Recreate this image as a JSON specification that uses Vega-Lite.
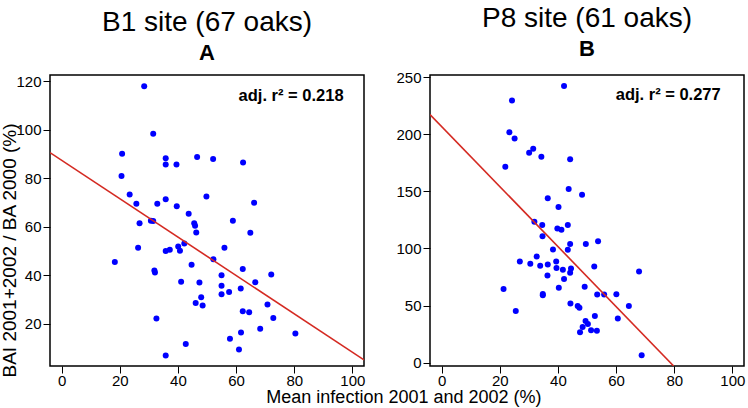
{
  "$schema": "https://vega.github.io/schema/vega-lite/v6.json",
  "background": "white",
  "padding": {"left": 0, "top": 4, "right": 0, "bottom": 2},
  "spacing": 29,
  "title": {"text": "Mean infection 2001 and 2002  (%)", "orient": "bottom", "anchor": "middle", "fontSize": 18, "fontWeight": "normal", "font": "Liberation Sans", "color": "black", "offset": 0, "dx": 31},
  "config": {
    "view": {"stroke": "black", "strokeWidth": 1.5},
    "axis": {"domain": false, "grid": false, "ticks": true, "tickColor": "black", "tickSize": 7, "tickWidth": 1, "labelColor": "black", "labelFontSize": 15, "labelFont": "Liberation Sans", "titleFont": "Liberation Sans", "titleFontSize": 19, "titleFontWeight": "normal", "titleColor": "black", "labelPadding": 2, "labelFlush": false},
    "axisX": {"labelPadding": 0},
    "text": {"font": "Liberation Sans"}
  },
  "datasets": {
    "b1": [
      {"x": 28.4, "y": 117.9}, {"x": 31.5, "y": 98.3}, {"x": 20.8, "y": 90.0}, {"x": 35.8, "y": 88.2}, {"x": 35.8, "y": 85.6},
      {"x": 39.5, "y": 85.6}, {"x": 46.6, "y": 88.7}, {"x": 52.1, "y": 87.9}, {"x": 62.4, "y": 86.4}, {"x": 20.6, "y": 80.9},
      {"x": 23.4, "y": 73.2}, {"x": 25.7, "y": 69.4}, {"x": 32.9, "y": 69.4}, {"x": 35.8, "y": 71.3}, {"x": 39.6, "y": 68.4},
      {"x": 49.8, "y": 72.4}, {"x": 66.2, "y": 69.8}, {"x": 43.7, "y": 65.3}, {"x": 26.8, "y": 61.4}, {"x": 30.7, "y": 62.4},
      {"x": 31.5, "y": 62.3}, {"x": 45.6, "y": 61.4}, {"x": 45.9, "y": 60.3}, {"x": 46.3, "y": 57.6}, {"x": 58.9, "y": 62.4},
      {"x": 64.9, "y": 57.4}, {"x": 26.3, "y": 51.3}, {"x": 35.8, "y": 49.9}, {"x": 37.2, "y": 50.4}, {"x": 40.1, "y": 51.8},
      {"x": 40.7, "y": 50.0}, {"x": 42.2, "y": 53.0}, {"x": 56.0, "y": 51.3}, {"x": 18.3, "y": 45.4}, {"x": 52.2, "y": 46.5},
      {"x": 31.9, "y": 41.9}, {"x": 32.1, "y": 41.1}, {"x": 44.7, "y": 44.3}, {"x": 62.3, "y": 42.5}, {"x": 55.0, "y": 39.9},
      {"x": 41.1, "y": 37.2}, {"x": 47.4, "y": 36.9}, {"x": 66.6, "y": 37.0}, {"x": 72.1, "y": 40.2}, {"x": 55.0, "y": 35.6},
      {"x": 57.6, "y": 33.0}, {"x": 55.0, "y": 32.1}, {"x": 61.6, "y": 34.5}, {"x": 48.0, "y": 30.8}, {"x": 46.1, "y": 28.5},
      {"x": 48.5, "y": 27.5}, {"x": 70.8, "y": 27.9}, {"x": 62.3, "y": 25.1}, {"x": 64.5, "y": 24.7}, {"x": 72.8, "y": 22.3},
      {"x": 32.6, "y": 22.1}, {"x": 68.3, "y": 17.9}, {"x": 61.7, "y": 16.3}, {"x": 80.4, "y": 15.9}, {"x": 57.9, "y": 13.7},
      {"x": 42.7, "y": 11.6}, {"x": 35.8, "y": 6.8}, {"x": 61.0, "y": 9.3}
    ],
    "p8": [
      {"x": 42.1, "y": 242.4}, {"x": 24.2, "y": 229.6}, {"x": 23.3, "y": 201.9}, {"x": 25.1, "y": 196.4}, {"x": 21.9, "y": 171.6},
      {"x": 30.1, "y": 183.8}, {"x": 31.5, "y": 187.3}, {"x": 34.3, "y": 180.4}, {"x": 44.2, "y": 178.1}, {"x": 43.7, "y": 152.1},
      {"x": 48.3, "y": 147.1}, {"x": 36.5, "y": 144.0}, {"x": 40.2, "y": 136.4}, {"x": 31.9, "y": 123.3}, {"x": 34.6, "y": 120.6},
      {"x": 43.4, "y": 120.6}, {"x": 39.8, "y": 117.4}, {"x": 41.2, "y": 116.5}, {"x": 34.7, "y": 110.7}, {"x": 44.2, "y": 104.0},
      {"x": 49.6, "y": 104.0}, {"x": 53.8, "y": 106.4}, {"x": 38.3, "y": 99.1}, {"x": 43.4, "y": 98.8}, {"x": 26.9, "y": 88.6},
      {"x": 30.5, "y": 86.5}, {"x": 32.7, "y": 92.9}, {"x": 33.9, "y": 84.8}, {"x": 36.5, "y": 85.9}, {"x": 39.4, "y": 88.6},
      {"x": 39.5, "y": 82.8}, {"x": 41.7, "y": 81.3}, {"x": 44.5, "y": 82.4}, {"x": 44.2, "y": 78.7}, {"x": 52.5, "y": 84.2},
      {"x": 67.9, "y": 79.8}, {"x": 36.4, "y": 76.3}, {"x": 42.1, "y": 73.2}, {"x": 21.3, "y": 64.4}, {"x": 40.3, "y": 65.6},
      {"x": 49.2, "y": 66.4}, {"x": 34.8, "y": 60.1}, {"x": 34.8, "y": 59.0}, {"x": 53.5, "y": 59.6}, {"x": 55.9, "y": 59.7},
      {"x": 60.1, "y": 59.8}, {"x": 25.5, "y": 45.2}, {"x": 44.3, "y": 51.8}, {"x": 46.8, "y": 49.6}, {"x": 47.4, "y": 48.0},
      {"x": 64.4, "y": 49.6}, {"x": 60.6, "y": 38.6}, {"x": 52.7, "y": 40.9}, {"x": 49.5, "y": 36.4}, {"x": 50.3, "y": 33.8},
      {"x": 48.5, "y": 31.2}, {"x": 47.6, "y": 26.5}, {"x": 51.4, "y": 28.4}, {"x": 53.4, "y": 27.8}, {"x": 68.8, "y": 6.4}
    ],
    "b1line": [{"x": -4, "y": 90.5}, {"x": 104, "y": 5.0}],
    "p8line": [{"x": -4, "y": 217.4}, {"x": 79.8, "y": -3}],
    "b1lab": [{"x": 97, "y": 113.8, "label": "adj. r² = 0.218"}],
    "p8lab": [{"x": 96, "y": 234.3, "label": "adj. r² = 0.277"}]
  },
  "hconcat": [
    {
      "width": 314,
      "height": 291,
      "title": {"text": "B1 site (67 oaks)", "subtitle": "A", "fontSize": 28, "fontWeight": "normal", "font": "Liberation Sans", "color": "black", "subtitleFont": "Liberation Sans", "subtitleFontSize": 22, "subtitleFontWeight": "bold", "subtitleColor": "black", "anchor": "middle", "offset": 10, "subtitlePadding": 6},
      "layer": [
        {
          "data": {"name": "b1"},
          "mark": {"type": "point", "filled": true, "size": 36, "color": "#0000FF", "opacity": 1},
          "encoding": {
            "x": {"field": "x", "type": "quantitative", "scale": {"domain": [-4, 104], "nice": false, "zero": false}, "axis": {"values": [0, 20, 40, 60, 80, 100], "title": null}},
            "y": {"field": "y", "type": "quantitative", "scale": {"domain": [2.5, 122.5], "nice": false, "zero": false}, "axis": {"values": [20, 40, 60, 80, 100, 120], "title": "BAI 2001+2002  / BA 2000  (%)", "titlePadding": -4, "titleY": 175}}
          }
        },
        {
          "data": {"name": "b1line"},
          "mark": {"type": "line", "color": "#D42A22", "strokeWidth": 1.6, "clip": true},
          "encoding": {"x": {"field": "x", "type": "quantitative"}, "y": {"field": "y", "type": "quantitative"}}
        },
        {
          "data": {"name": "b1lab"},
          "mark": {"type": "text", "align": "right", "baseline": "middle", "fontSize": 16.5, "fontWeight": "bold", "color": "black"},
          "encoding": {"x": {"field": "x", "type": "quantitative"}, "y": {"field": "y", "type": "quantitative"}, "text": {"field": "label"}}
        }
      ]
    },
    {
      "width": 314,
      "height": 291,
      "title": {"text": "P8 site (61 oaks)", "subtitle": "B", "fontSize": 28, "fontWeight": "normal", "font": "Liberation Sans", "color": "black", "subtitleFont": "Liberation Sans", "subtitleFontSize": 22, "subtitleFontWeight": "bold", "subtitleColor": "black", "anchor": "middle", "offset": 10, "subtitlePadding": 6},
      "layer": [
        {
          "data": {"name": "p8"},
          "mark": {"type": "point", "filled": true, "size": 36, "color": "#0000FF", "opacity": 1},
          "encoding": {
            "x": {"field": "x", "type": "quantitative", "scale": {"domain": [-4, 104], "nice": false, "zero": false}, "axis": {"values": [0, 20, 40, 60, 80, 100], "title": null}},
            "y": {"field": "y", "type": "quantitative", "scale": {"domain": [-3, 252], "nice": false, "zero": false}, "axis": {"values": [0, 50, 100, 150, 200, 250], "title": null}}
          }
        },
        {
          "data": {"name": "p8line"},
          "mark": {"type": "line", "color": "#D42A22", "strokeWidth": 1.6, "clip": true},
          "encoding": {"x": {"field": "x", "type": "quantitative"}, "y": {"field": "y", "type": "quantitative"}}
        },
        {
          "data": {"name": "p8lab"},
          "mark": {"type": "text", "align": "right", "baseline": "middle", "fontSize": 16.5, "fontWeight": "bold", "color": "black"},
          "encoding": {"x": {"field": "x", "type": "quantitative"}, "y": {"field": "y", "type": "quantitative"}, "text": {"field": "label"}}
        }
      ]
    }
  ],
  "resolve": {"scale": {"y": "independent", "x": "independent"}}
}
